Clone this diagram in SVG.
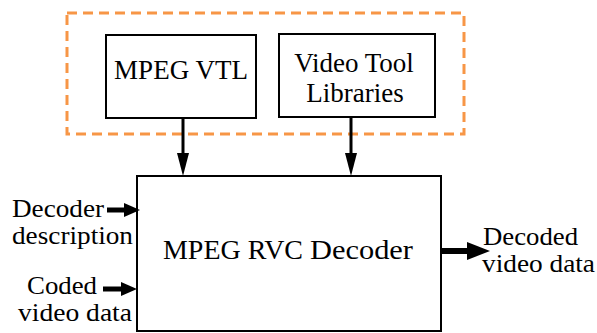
<svg xmlns="http://www.w3.org/2000/svg" width="597" height="333" viewBox="0 0 597 333">
<style>
text{font-family:"Liberation Serif","Times New Roman",serif;fill:#000}
.box{fill:#fff;stroke:#000;stroke-width:2}
.big{font-size:28px}
.mid{font-size:27px}
.sm{font-size:25px}
.ln{stroke:#000;fill:none}
</style>
<rect x="67" y="13" width="397" height="121" fill="none" stroke="#F79646" stroke-width="3" stroke-dasharray="10,6"/>
<g id="vtl">
<rect class="box" x="106" y="35" width="150" height="83"/>
<text class="mid" x="181" y="79" text-anchor="middle">MPEG VTL</text>
</g>
<g id="libs">
<rect class="box" x="279" y="34" width="156" height="83"/>
<text class="mid" x="354" y="72" text-anchor="middle">Video Tool</text>
<text class="mid" x="355" y="102" text-anchor="middle">Libraries</text>
</g>
<g id="decoder">
<rect class="box" x="137" y="176" width="304" height="155"/>
<text class="big" x="163" y="259" textLength="140" lengthAdjust="spacingAndGlyphs">MPEG RVC</text>
<text class="big" x="310" y="259" textLength="103" lengthAdjust="spacingAndGlyphs">Decoder</text>
</g>
<g id="labels">
<text class="sm" x="12" y="217" textLength="92" lengthAdjust="spacingAndGlyphs">Decoder</text>
<text class="sm" x="12" y="244" textLength="121" lengthAdjust="spacingAndGlyphs">description</text>
<text class="sm" x="27" y="294" textLength="70" lengthAdjust="spacingAndGlyphs">Coded</text>
<text class="sm" x="18" y="321" textLength="114" lengthAdjust="spacingAndGlyphs">video data</text>
<text class="sm" x="483" y="245" textLength="95" lengthAdjust="spacingAndGlyphs">Decoded</text>
<text class="sm" x="482" y="272" textLength="113" lengthAdjust="spacingAndGlyphs">video data</text>
</g>
<g id="connectors">
<line class="ln" x1="183" y1="118" x2="183" y2="154" stroke-width="3"/>
<path d="M177,153 L189,153 L183,176 Z" fill="#000"/>
<line class="ln" x1="351" y1="117" x2="351" y2="154" stroke-width="3"/>
<path d="M345,153 L357,153 L351,176 Z" fill="#000"/>
<line class="ln" x1="107" y1="210" x2="127" y2="210" stroke-width="5"/>
<path d="M124,203 L140,210 L124,217 Z" fill="#000"/>
<line class="ln" x1="103" y1="289" x2="124" y2="289" stroke-width="5"/>
<path d="M121,282 L137,289 L121,296 Z" fill="#000"/>
<line class="ln" x1="441" y1="251" x2="469" y2="251" stroke-width="6"/>
<path d="M467,242 L490,251 L467,260 Z" fill="#000"/>
</g>
</svg>
